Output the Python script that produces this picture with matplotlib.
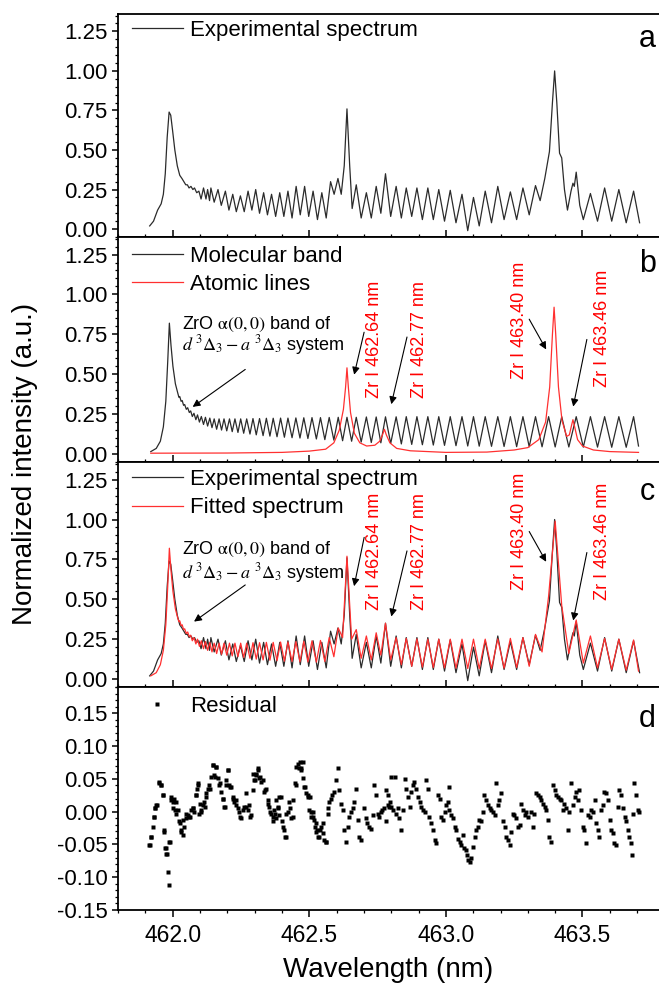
import numpy as np
import matplotlib
matplotlib.use('Agg')
import matplotlib.pyplot as plt
from matplotlib.ticker import MultipleLocator, AutoMinorLocator, FormatStrFormatter

plt.rcParams['font.family'] = ['Liberation Sans', 'DejaVu Sans']
plt.rcParams['mathtext.fontset'] = 'stix'
plt.rcParams['axes.unicode_minus'] = False

# ---- experimental spectrum (panel a, black line in c) ----
exp_wl = [461.916, 461.930, 461.945, 461.958, 461.966, 461.973, 461.980, 461.987, 461.993, 462.000,
          462.008, 462.017, 462.026, 462.034, 462.041, 462.048, 462.054, 462.060, 462.067, 462.074,
          462.080, 462.088, 462.096, 462.104, 462.113, 462.122, 462.128, 462.135, 462.140, 462.152,
          462.166, 462.178, 462.193, 462.206, 462.220, 462.233, 462.248, 462.262, 462.276, 462.290,
          462.304, 462.318, 462.333, 462.347, 462.362, 462.377, 462.392, 462.407, 462.422, 462.437,
          462.452, 462.467, 462.483, 462.498, 462.514, 462.530, 462.546, 462.562, 462.578, 462.591,
          462.605, 462.617, 462.628, 462.638, 462.648, 462.657, 462.672, 462.690, 462.709, 462.727,
          462.745, 462.762, 462.779, 462.798, 462.818, 462.837, 462.855, 462.875, 462.894, 462.914,
          462.934, 462.954, 462.974, 462.995, 463.016, 463.037, 463.059, 463.080, 463.101, 463.122,
          463.144, 463.167, 463.190, 463.213, 463.236, 463.259, 463.282, 463.305, 463.328, 463.345,
          463.362, 463.379, 463.390, 463.398, 463.406, 463.416, 463.424, 463.434, 463.445, 463.458,
          463.465, 463.470, 463.477, 463.490, 463.503, 463.529, 463.555, 463.581, 463.607, 463.633,
          463.660, 463.687, 463.709]
exp_int = [0.02, 0.05, 0.12, 0.16, 0.22, 0.35, 0.58, 0.74, 0.72, 0.62,
           0.50, 0.40, 0.34, 0.32, 0.30, 0.28, 0.28, 0.26, 0.27, 0.25,
           0.26, 0.23, 0.24, 0.19, 0.26, 0.19, 0.25, 0.18, 0.26, 0.17,
           0.25, 0.15, 0.24, 0.12, 0.22, 0.11, 0.21, 0.11, 0.24, 0.12,
           0.25, 0.10, 0.23, 0.09, 0.22, 0.08, 0.23, 0.08, 0.24, 0.07,
           0.27, 0.09, 0.27, 0.08, 0.24, 0.06, 0.23, 0.07, 0.30, 0.22,
           0.32, 0.22, 0.40, 0.76, 0.40, 0.13, 0.28, 0.07, 0.23, 0.07,
           0.27, 0.10, 0.35, 0.08, 0.27, 0.07, 0.26, 0.08, 0.26, 0.06,
           0.26, 0.06, 0.25, 0.05, 0.245, 0.04, 0.22, -0.01, 0.20, 0.02,
           0.24, 0.04, 0.27, 0.06, 0.235, 0.06, 0.26, 0.09, 0.275, 0.18,
           0.32, 0.49, 0.80, 1.00, 0.80, 0.48, 0.45, 0.25, 0.12, 0.24,
           0.29, 0.27, 0.36, 0.15, 0.06, 0.225, 0.05, 0.26, 0.05, 0.25,
           0.04, 0.24, 0.04]

# ---- simulated molecular band (panel b, black) ----
mol_wl = [461.920, 461.940, 461.955, 461.966, 461.975, 461.982, 461.988, 461.994, 462.001, 462.010,
          462.019, 462.023, 462.026, 462.031, 462.035, 462.040, 462.044, 462.050, 462.055, 462.061,
          462.066, 462.072, 462.078, 462.085, 462.091, 462.098, 462.105, 462.113, 462.120, 462.128,
          462.136, 462.144, 462.152, 462.161, 462.170, 462.179, 462.188, 462.198, 462.208, 462.218,
          462.228, 462.239, 462.249, 462.260, 462.271, 462.283, 462.294, 462.306, 462.318, 462.331,
          462.343, 462.356, 462.368, 462.382, 462.395, 462.409, 462.422, 462.437, 462.451, 462.466,
          462.480, 462.495, 462.510, 462.526, 462.541, 462.557, 462.573, 462.590, 462.606, 462.622,
          462.638, 462.655, 462.672, 462.690, 462.709, 462.727, 462.745, 462.762, 462.779, 462.798,
          462.818, 462.837, 462.855, 462.875, 462.894, 462.914, 462.934, 462.954, 462.974, 462.995,
          463.016, 463.037, 463.059, 463.080, 463.101, 463.122, 463.144, 463.167, 463.190, 463.213,
          463.236, 463.259, 463.282, 463.305, 463.328, 463.352, 463.376, 463.400, 463.424, 463.450,
          463.477, 463.503, 463.529, 463.555, 463.581, 463.607, 463.633, 463.660, 463.687, 463.705]
mol_int = [0.015, 0.035, 0.08, 0.17, 0.33, 0.58, 0.82, 0.68, 0.55, 0.44,
           0.38, 0.355, 0.36, 0.33, 0.335, 0.305, 0.31, 0.28, 0.29, 0.26,
           0.27, 0.235, 0.255, 0.215, 0.245, 0.20, 0.235, 0.185, 0.23, 0.175,
           0.225, 0.165, 0.22, 0.155, 0.22, 0.15, 0.22, 0.145, 0.22, 0.14,
           0.22, 0.135, 0.22, 0.13, 0.22, 0.125, 0.222, 0.12, 0.222, 0.115,
           0.224, 0.112, 0.224, 0.108, 0.225, 0.105, 0.225, 0.102, 0.226, 0.10,
           0.227, 0.097, 0.228, 0.094, 0.228, 0.09, 0.229, 0.087, 0.23, 0.083,
           0.23, 0.08, 0.23, 0.075, 0.232, 0.072, 0.232, 0.07, 0.233, 0.066,
           0.233, 0.063, 0.234, 0.06, 0.234, 0.058, 0.234, 0.056, 0.234, 0.054,
           0.234, 0.052, 0.234, 0.05, 0.234, 0.049, 0.234, 0.048, 0.234, 0.047,
           0.234, 0.046, 0.234, 0.045, 0.234, 0.045, 0.234, 0.044, 0.234, 0.044,
           0.234, 0.043, 0.234, 0.043, 0.234, 0.042, 0.234, 0.042, 0.234, 0.05]

# ---- atomic Zr I lines (panel b, red) ----
atom_wl = [461.920, 462.200, 462.400, 462.500, 462.560, 462.590, 462.610, 462.625, 462.633, 462.638,
           462.643, 462.651, 462.665, 462.685, 462.710, 462.740, 462.758, 462.768, 462.775, 462.782,
           462.795, 462.820, 462.870, 463.000, 463.150, 463.250, 463.300, 463.340, 463.365, 463.380,
           463.390, 463.396, 463.402, 463.412, 463.425, 463.442, 463.452, 463.460, 463.465, 463.470,
           463.482, 463.500, 463.540, 463.600, 463.705]
atom_int = [0.005, 0.006, 0.01, 0.018, 0.03, 0.07, 0.15, 0.28, 0.42, 0.54,
            0.42, 0.26, 0.13, 0.07, 0.05, 0.055, 0.08, 0.12, 0.155, 0.12,
            0.07, 0.035, 0.02, 0.01, 0.012, 0.025, 0.04, 0.09, 0.20, 0.42,
            0.75, 0.92, 0.75, 0.42, 0.21, 0.11, 0.12, 0.18, 0.215, 0.18,
            0.09, 0.05, 0.025, 0.015, 0.01]

# ---- fitted spectrum (panel c, red) ----
fit_wl = mol_wl[:]
fit_int = [0.02, 0.04, 0.09, 0.18, 0.34, 0.58, 0.82, 0.68, 0.55, 0.44,
           0.38, 0.36, 0.365, 0.335, 0.34, 0.31, 0.315, 0.285, 0.295, 0.265,
           0.275, 0.24, 0.26, 0.22, 0.25, 0.205, 0.24, 0.19, 0.235, 0.18,
           0.23, 0.17, 0.225, 0.16, 0.225, 0.155, 0.225, 0.15, 0.225, 0.145,
           0.225, 0.14, 0.225, 0.135, 0.225, 0.13, 0.228, 0.125, 0.228, 0.12,
           0.23, 0.118, 0.23, 0.115, 0.232, 0.112, 0.232, 0.11, 0.235, 0.108,
           0.237, 0.107, 0.24, 0.106, 0.242, 0.11, 0.26, 0.14, 0.32, 0.26,
           0.77, 0.25, 0.31, 0.13, 0.27, 0.12, 0.29, 0.15, 0.35, 0.12,
           0.26, 0.09, 0.255, 0.08, 0.252, 0.075, 0.25, 0.072, 0.25, 0.07,
           0.25, 0.068, 0.25, 0.066, 0.25, 0.065, 0.25, 0.066, 0.252, 0.068,
           0.255, 0.072, 0.26, 0.08, 0.28, 0.17, 0.52, 0.99, 0.46, 0.16,
           0.37, 0.10, 0.27, 0.07, 0.255, 0.06, 0.25, 0.055, 0.245, 0.05]

# ---- residual (panel d) ----
res_wl = [461.916, 461.922, 461.930, 461.937, 461.940, 461.950, 461.959, 461.965, 461.968, 461.973,
          461.977, 461.983, 461.987, 461.989, 461.995, 462.001, 462.007, 462.013, 462.026, 462.032,
          462.038, 462.050, 462.062, 462.074, 462.087, 462.093, 462.099, 462.105, 462.117, 462.123,
          462.135, 462.148, 462.154, 462.160, 462.172, 462.184, 462.190, 462.196, 462.202, 462.209,
          462.221, 462.233, 462.245, 462.257, 462.270, 462.282, 462.294, 462.300, 462.306, 462.312,
          462.318, 462.330, 462.337, 462.349, 462.355, 462.367, 462.373, 462.379, 462.385, 462.391,
          462.404, 462.410, 462.416, 462.428, 462.440, 462.446, 462.452, 462.465, 462.471, 462.477,
          462.483, 462.495, 462.501, 462.507, 462.513, 462.520, 462.526, 462.532, 462.538, 462.550,
          462.562, 462.568,
          461.915, 461.921, 461.927, 461.930, 461.935, 461.943, 461.951, 461.957, 461.963, 461.970,
          461.976, 461.979, 461.988, 461.994, 462.000, 462.006, 462.012, 462.018, 462.024, 462.030,
          462.037, 462.043, 462.049, 462.055, 462.061, 462.067, 462.073, 462.079, 462.085, 462.089,
          462.091, 462.098, 462.104, 462.110, 462.116, 462.122, 462.128, 462.134, 462.140, 462.146,
          462.152, 462.159, 462.165, 462.171, 462.177, 462.183, 462.189, 462.195, 462.201, 462.207,
          462.213, 462.220, 462.226, 462.232, 462.238, 462.244, 462.250, 462.262, 462.268, 462.274,
          462.280, 462.287, 462.293, 462.299, 462.305, 462.311, 462.317, 462.323, 462.335, 462.341,
          462.348, 462.354, 462.360, 462.366, 462.372, 462.378, 462.384, 462.390, 462.396, 462.402,
          462.409, 462.415, 462.421, 462.427, 462.433, 462.439, 462.451, 462.457, 462.463, 462.470,
          462.476, 462.482, 462.488, 462.494, 462.500, 462.506, 462.512, 462.518, 462.524, 462.530,
          462.537, 462.543, 462.549, 462.555, 462.561, 462.567, 462.573, 462.579, 462.585, 462.591,
          462.598, 462.604, 462.610, 462.616, 462.622, 462.628, 462.634, 462.640, 462.646, 462.652,
          462.659, 462.665, 462.671, 462.677, 462.683, 462.689, 462.701, 462.707, 462.713, 462.720,
          462.726, 462.732, 462.738, 462.744, 462.750, 462.756, 462.762, 462.768, 462.774, 462.780,
          462.787, 462.793, 462.799,
          462.782, 462.788, 462.794, 462.800, 462.806, 462.812, 462.818, 462.824, 462.830, 462.837,
          462.843, 462.849, 462.855, 462.861, 462.867, 462.873, 462.879, 462.885, 462.891, 462.898,
          462.904, 462.910, 462.916, 462.922, 462.928, 462.934, 462.940, 462.946, 462.952, 462.959,
          462.965, 462.971, 462.977, 462.983, 462.989, 462.995, 463.001, 463.007, 463.011, 463.013,
          463.020, 463.026, 463.032, 463.038, 463.044, 463.050, 463.056, 463.062, 463.068, 463.074,
          463.078, 463.080, 463.087, 463.093, 463.099, 463.105, 463.111, 463.117, 463.123, 463.129,
          463.135, 463.141, 463.148, 463.154, 463.160, 463.166, 463.172, 463.178, 463.184, 463.190,
          463.196, 463.202, 463.209, 463.215, 463.221, 463.227, 463.233, 463.239, 463.245, 463.251,
          463.257, 463.263, 463.270, 463.276, 463.282, 463.288, 463.294, 463.300, 463.312, 463.318,
          463.324, 463.330, 463.337, 463.343, 463.349, 463.355, 463.361, 463.367, 463.373, 463.379,
          463.385, 463.391, 463.398, 463.404, 463.410, 463.416, 463.422, 463.428, 463.434, 463.440,
          463.446, 463.452, 463.459, 463.465, 463.471, 463.477, 463.483, 463.489, 463.495, 463.501,
          463.507, 463.513, 463.520, 463.526, 463.532, 463.538, 463.544, 463.550, 463.556, 463.562,
          463.568, 463.574, 463.580, 463.587, 463.593, 463.599, 463.605, 463.611, 463.617, 463.623,
          463.629, 463.635, 463.641, 463.648, 463.654, 463.660, 463.666, 463.672, 463.678, 463.680,
          463.684, 463.690, 463.696, 463.702, 463.708]
res_val = [-0.051, -0.038, -0.008, 0.005, 0.010, 0.043, 0.040, 0.025, -0.031, -0.056,
           -0.064, -0.092, -0.112, -0.046, 0.023, 0.015, 0.002, -0.003, -0.018, -0.031,
           -0.013, -0.003, -0.008, 0.005, 0.025, 0.040, 0.012, 0.000, 0.007, 0.023,
           0.035, 0.071, 0.053, 0.068, 0.043, 0.020, 0.007, 0.040, 0.063, 0.038,
           0.020, 0.018, -0.008, 0.002, 0.007, -0.008, 0.033, 0.048, 0.058, 0.063,
           0.053, 0.048, 0.033, 0.012, 0.000, -0.008, -0.003, -0.010, 0.007, 0.023,
           -0.023, -0.038, -0.003, 0.005, -0.008, 0.043, 0.068, 0.076, 0.066, 0.051,
           0.038, 0.025, 0.023, 0.000, -0.008, -0.023, -0.031, -0.038, -0.028, -0.018,
           -0.046, -0.003,
           -0.051, -0.038, -0.023, -0.008, 0.005, 0.010, 0.045, 0.040, 0.025, -0.028,
           -0.056, -0.064, -0.046, 0.018, 0.005, 0.020, 0.015, 0.002, -0.015, -0.028,
           -0.036, -0.023, -0.010, -0.005, -0.008, 0.002, 0.005, 0.000, 0.025, 0.035,
           0.043, -0.003, 0.002, 0.010, 0.015, 0.028, 0.035, 0.040, 0.053, 0.071,
           0.056, 0.068, 0.051, 0.040, 0.030, 0.020, 0.007, 0.048, 0.063, 0.040,
           0.038, 0.023, 0.015, 0.010, 0.005, 0.000, -0.010, 0.007, 0.028, 0.002,
           0.010, -0.005, 0.058, 0.048, 0.056, 0.066, 0.051, 0.045, 0.030, 0.035,
           0.018, 0.007, -0.003, -0.015, 0.002, 0.018, 0.005, -0.005, 0.023, -0.015,
           -0.028, -0.038, 0.000, 0.015, -0.010, 0.018, 0.040, 0.073, 0.066, 0.063,
           0.076, 0.038, 0.028, 0.023, 0.002, -0.008, 0.000, -0.013, -0.018, -0.028,
           -0.038, -0.023, -0.033, -0.043, -0.046, 0.005, 0.015, 0.020, 0.025, 0.030,
           0.048, 0.066, 0.033, 0.012, 0.002, -0.028, -0.046, -0.023, -0.008, 0.000,
           0.005, 0.015, 0.035, -0.013, -0.038, -0.043, 0.005, -0.010, -0.018, -0.023,
           -0.026, -0.005, 0.040, 0.025, -0.003, -0.008, 0.000, 0.002, 0.005, -0.015,
           0.010, 0.007, 0.053,
           0.033, 0.025, 0.015, 0.007, 0.002, 0.053, -0.003, 0.005, -0.010, -0.028,
           0.002, 0.050, 0.035, 0.023, 0.007, 0.030, 0.040, 0.045, 0.035, 0.023,
           0.015, 0.007, 0.002, 0.000, 0.048, 0.035, -0.008, -0.018, -0.028, -0.043,
           -0.048, 0.025, 0.020, -0.008, -0.013, 0.000, 0.010, 0.015, 0.038, 0.002,
           -0.005, -0.010, -0.023, -0.028, -0.041, -0.046, -0.051, -0.036, -0.056, -0.059,
           -0.066, -0.074, -0.076, -0.071, -0.054, -0.038, -0.028, -0.023, -0.013, -0.015,
           0.000, 0.025, 0.018, 0.010, 0.005, 0.002, 0.000, -0.005, 0.043, 0.010,
           0.018, 0.028, -0.015, -0.023, -0.038, -0.043, -0.051, -0.031, -0.003, -0.005,
           -0.010, -0.023, -0.021, 0.012, 0.002, -0.005, 0.000, -0.008, 0.000, -0.023,
           -0.003, 0.028, 0.025, 0.023, 0.018, 0.012, 0.007, 0.002, -0.013, -0.038,
           -0.046, 0.040, 0.033, 0.025, 0.023, 0.020, 0.018, 0.002, 0.012, 0.005,
           -0.028, 0.000, 0.043, 0.010, 0.023, 0.030, 0.018, 0.033, 0.002, -0.023,
           -0.028, -0.048, -0.005, -0.008, 0.002, 0.000, 0.018, -0.018, -0.028, -0.038,
           0.002, 0.010, 0.030, 0.028, 0.018, -0.013, -0.028, -0.033, -0.048, -0.051,
           0.007, 0.033, 0.025, 0.005, -0.008, -0.015, -0.028, -0.038, -0.048, -0.066,
           -0.003, 0.043, 0.025, 0.002, 0.000]

# Zr I line labels and arrows (start, end) for panels b and c
zr_labels = ['Zr I 462.64 nm', 'Zr I 462.77 nm', 'Zr I 463.40 nm', 'Zr I 463.46 nm']
zr_lab_x = [462.74, 462.905, 463.27, 463.575]
zr_lab_y_b = [0.72, 0.72, 0.84, 0.79]
zr_lab_y_c = [0.80, 0.80, 0.925, 0.86]
arr_b = [((462.703, 0.78), (462.662, 0.48)), ((462.86, 0.75), (462.798, 0.295)),
         ((463.30, 0.86), (463.372, 0.64)), ((463.518, 0.735), (463.464, 0.28))]
arr_c = [((462.703, 0.905), (462.662, 0.565)), ((462.86, 0.82), (462.798, 0.375)),
         ((463.30, 0.94), (463.372, 0.72)), ((463.518, 0.81), (463.464, 0.35))]

black = '#2b2b2b'
red = '#ff3030'

fig = plt.figure(figsize=(6.59, 9.85), dpi=100)
L, W = 118 / 659, 541 / 659
boxes = [(0.7594, 0.2264), (0.5310, 0.2284), (0.3025, 0.2284), (0.0761, 0.2264)]
axs = [fig.add_axes([L, b, W, h]) for b, h in boxes]

for i, ax in enumerate(axs):
    ax.set_xlim(461.8, 463.78)
    ax.xaxis.set_major_locator(MultipleLocator(0.5))
    ax.xaxis.set_minor_locator(MultipleLocator(0.1))
    ax.yaxis.set_minor_locator(AutoMinorLocator(5))
    ax.yaxis.set_major_formatter(FormatStrFormatter('%.2f'))
    for s in ax.spines.values():
        s.set_linewidth(1.3)
    ax.spines['right'].set_visible(False)
    ax.tick_params(axis='y', direction='out', which='major', length=4.5, width=1.1,
                   labelsize=16, pad=3)
    ax.tick_params(axis='y', direction='out', which='minor', length=2.2, width=0.9)
    if i < 3:
        ax.set_ylim(-0.05, 1.36)
        ax.yaxis.set_major_locator(MultipleLocator(0.25))
        ax.tick_params(axis='x', direction='in', which='major', length=5, width=1.1,
                       labelbottom=False)
        ax.tick_params(axis='x', direction='in', which='minor', length=2.5, width=0.9)
    else:
        ax.set_ylim(-0.15, 0.19)
        ax.yaxis.set_major_locator(MultipleLocator(0.05))
        ax.tick_params(axis='x', direction='out', which='major', length=5, width=1.1,
                       labelsize=16.5, pad=5)
        ax.tick_params(axis='x', direction='out', which='minor', length=2.5, width=0.9)
        ax.xaxis.set_major_formatter(FormatStrFormatter('%.1f'))

# panel a
axs[0].plot(exp_wl, exp_int, color=black, lw=0.9, label='Experimental spectrum')
# panel b
axs[1].plot(mol_wl, mol_int, color=black, lw=0.9, label='Molecular band')
axs[1].plot(atom_wl, atom_int, color=red, lw=0.9, label='Atomic lines')
# panel c
axs[2].plot(exp_wl, exp_int, color=black, lw=0.9, label='Experimental spectrum')
axs[2].plot(fit_wl, fit_int, color=red, lw=0.9, label='Fitted spectrum')
# panel d
axs[3].plot(res_wl, res_val, 's', color='black', ms=2.7, mec='none', label='Residual')

leg_y = [0.972, 0.962, 0.968, 0.962]
for ax, y in zip(axs, leg_y):
    ax.legend(loc='upper left', bbox_to_anchor=(0.025, y), frameon=False, fontsize=16,
              borderaxespad=0, borderpad=0, handlelength=2.3, handletextpad=0.35,
              labelspacing=0.32)

for ax, t, y in zip(axs, ['a', 'b', 'c', 'd'], [0.853, 0.846, 0.831, 0.822]):
    ax.text(0.978, y, t, transform=ax.transAxes, fontsize=22, ha='center', va='baseline')

# ZrO band annotation and Zr I lines
for ax, y1, y2, arr, ys, arrows in [
        (axs[1], 0.815, 0.685, ((462.274, 0.54), (462.065, 0.285)), zr_lab_y_b, arr_b),
        (axs[2], 0.81, 0.665, ((462.274, 0.60), (462.07, 0.35)), zr_lab_y_c, arr_c)]:
    ax.text(462.035, y1, r'ZrO $\mathrm{\alpha(0,0)}$ band of', fontsize=13, va='center', ha='left')
    ax.text(462.035, y2, r'$d\ {}^{3}\Delta_{3} - a\ {}^{3}\Delta_{3}$ system', fontsize=13,
            va='center', ha='left')
    ax.annotate('', xy=arr[1], xytext=arr[0],
                arrowprops=dict(arrowstyle='-|>', color='black', lw=0.8, mutation_scale=11))
    for lab, x, y, (s, e) in zip(zr_labels, zr_lab_x, ys, arrows):
        ax.text(x, y, lab, color='red', rotation=90, fontsize=13, ha='center', va='center')
        ax.annotate('', xy=e, xytext=s,
                    arrowprops=dict(arrowstyle='-|>', color='black', lw=0.8, mutation_scale=11))

fig.text(388 / 659, 1 - 970 / 985, 'Wavelength (nm)', fontsize=20, ha='center', va='center')
fig.text(25 / 659, 1 - 464 / 985, 'Normalized intensity (a.u.)', fontsize=20,
         rotation=90, ha='center', va='center')

fig.savefig('out.png', dpi=100)
